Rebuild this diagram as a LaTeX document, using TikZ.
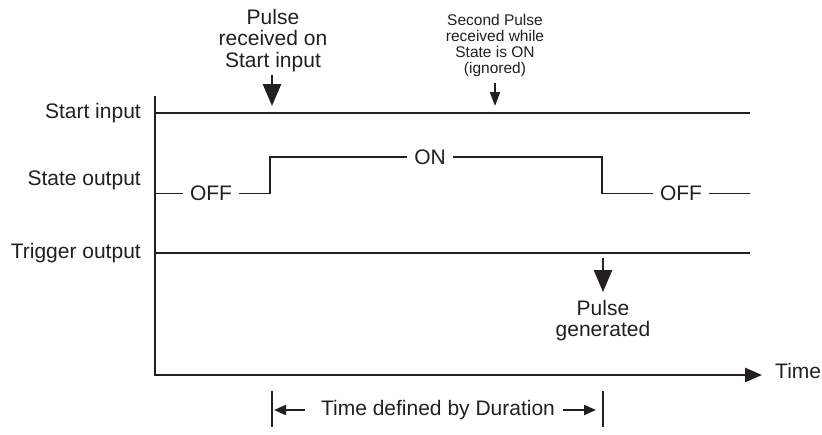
\documentclass[tikz,border=0pt]{standalone}
\usepackage{fontspec}
\setmainfont{Liberation Sans}
\usetikzlibrary{arrows.meta,positioning}
\definecolor{TraceBlack}{HTML}{231F20}

\begin{document}
\begin{tikzpicture}[
      x=1pt, y=-1pt,
      lbl/.style={font=\fontsize{21}{21}\selectfont, text=TraceBlack, inner sep=0pt},
      level/.style={lbl, inner xsep=7pt},
      note/.style={font=\fontsize{21}{21.5}\selectfont, text=TraceBlack, align=center, inner sep=0pt},
      smallnote/.style={font=\fontsize{15.5}{16}\selectfont, text=TraceBlack, align=center, inner sep=0pt},
      trace/.style={draw=TraceBlack, line width=1.2pt},
      axisline/.style={draw=TraceBlack, line width=2.7pt, -{Triangle[length=17pt,width=14pt]}},
      bigpulse/.style={-{Triangle[length=22pt,width=18pt]}, line width=2.6pt, draw=TraceBlack},
      smallpulse/.style={-{Triangle[length=14pt,width=10pt]}, line width=1.8pt, draw=TraceBlack},
      spanarrow/.style={-{Triangle[length=12pt,width=10pt]}, line width=2.2pt, draw=TraceBlack}
    ]
    \useasboundingbox (0,0) rectangle (822,434);

    % signal names
    \node[lbl, anchor=east] (startlbl) at (141,113) {Start input};
    \node[lbl, anchor=east] (statelbl) at (141,180) {State output};
    \node[lbl, anchor=east] (triglbl) at (141,253) {Trigger output};

    % axes
    \coordinate (origin) at (155,375);
    \coordinate (ytop) at (155,96);
    \coordinate (xend) at (762,375);
    \draw[axisline] (ytop) |- (xend);
    \node[lbl, anchor=west] (timelbl) at (775,371) {Time};

    % start input and trigger output
    \draw[trace] (155,113) coordinate (startL) -- (750,113) coordinate (startR);
    \draw[trace] (155,253) coordinate (trigL) -- (750,253) coordinate (trigR);

    % state output
    \node[level] (offA) at (211,193.5) {OFF};
    \node[level] (onB) at (430,157) {ON};
    \node[level] (offC) at (681,193.5) {OFF};
    \coordinate (stateL) at (155,193.5);
    \coordinate (stateR) at (750,193.5);
    \draw[trace] (stateL) -- (offA.west);
    \draw[trace] (offA.east) -- (270,193.5) -- (270,157) -- (onB.west);
    \draw[trace] (onB.east) -- (602,157) -- (602,193.5) -- (offC.west);
    \draw[trace] (offC.east) -- (stateR);

    % pulse notes
    \node[note, anchor=north] (pulsein) at (273,9) {Pulse\\received on\\Start input};
    \draw[bigpulse] (272,75) coordinate (pulseinA) -- (272,106) coordinate (pulseinB);

    \node[smallnote, anchor=north] (secondin) at (495,14) {Second Pulse\\received while\\State is ON\\(ignored)};
    \draw[smallpulse] (495,83) coordinate (secondA) -- (495,106) coordinate (secondB);

    \draw[bigpulse] (603,258) coordinate (pulseoutA) -- (603,292) coordinate (pulseoutB);
    \node[note, anchor=north] (pulseout) at (603,300) {Pulse\\generated};

    % duration span
    \draw[trace] (272,391) coordinate (durLt) -- (272,427) coordinate (durLb);
    \draw[trace] (603,391) coordinate (durRt) -- (603,427) coordinate (durRb);
    \node[lbl] (durtxt) at (438,410) {Time defined by Duration};
    \draw[spanarrow] (305,410) coordinate (durA) -- (274,410) coordinate (durB);
    \draw[spanarrow] (563,410) coordinate (durC) -- (596,410) coordinate (durD);
  \end{tikzpicture}
\end{document}
